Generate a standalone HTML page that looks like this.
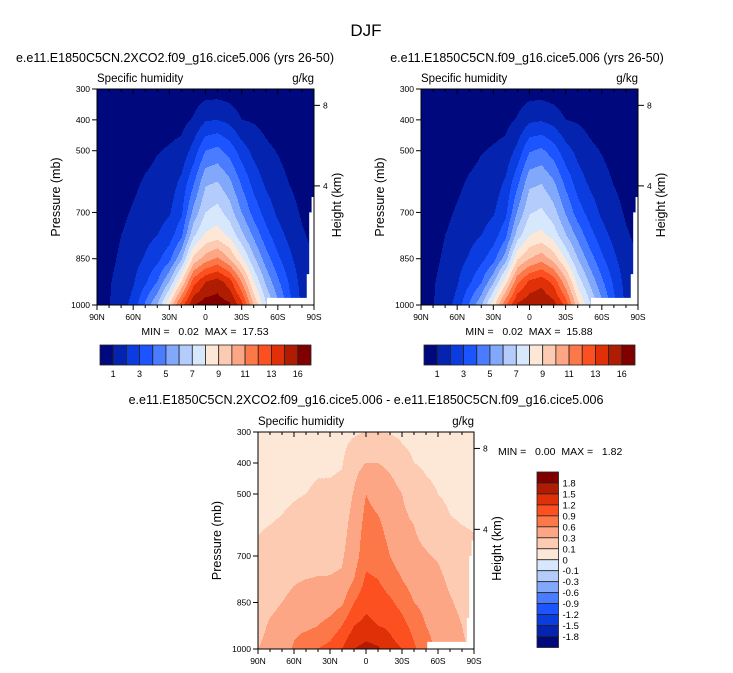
<!DOCTYPE html>
<html><head><meta charset="utf-8">
<style>
html,body{margin:0;padding:0;background:#fff;}
svg{display:block;font-family:"Liberation Sans",sans-serif;}
.pre{white-space:pre;}
</style></head>
<body>
<svg id="root" width="733" height="673" viewBox="0 0 733 673" xmlns="http://www.w3.org/2000/svg">
<text x="366" y="36" font-size="17" text-anchor="middle">DJF</text>
</svg>
<script>
// ---------- data ----------
const latLabels = ["90N","60N","30N","0","30S","60S","90S"];
const latTickDeg = [0,30,60,90,120,150,180];
const gridDeg = [0,10,20,30,40,50,60,70,80,90,100,110,120,130,140,150,160,170,180];
const gridP = [300,400,500,600,700,775,850,925,1000];
const pTicks = [300,400,500,700,850,1000];
const hTicks = [8,4];
const hTickP = [353,614];
// panel 1 field (level units), one column per latitude
const field1 = [
[0.2,0.2,0.2,0.2,0.2,0.2,0.2,0.3,0.5],
[0.2,0.2,0.2,0.3,0.4,0.5,0.7,0.9,0.95],
[0.2,0.2,0.3,0.5,0.8,1.0,1.2,1.4,1.6],
[0.2,0.3,0.5,0.8,1.1,1.3,1.6,1.9,2.3],
[0.2,0.4,0.7,1.1,1.4,1.7,2.1,2.8,4.2],
[0.3,0.5,0.95,1.3,1.6,2.0,2.7,4.0,6.0],
[0.3,0.6,1.1,1.5,1.9,2.5,3.7,6.0,9.0],
[0.3,0.7,1.3,2.2,2.8,3.8,5.8,9.0,12.5],
[0.4,1.1,2.4,3.8,5.3,6.8,9.3,12.5,15.0],
[0.5,1.9,4.0,5.8,7.0,8.2,10.5,14.0,15.5],
[0.5,2.0,4.3,6.0,7.4,8.5,11.2,14.5,15.5],
[0.4,1.7,3.6,5.2,6.5,7.8,10.0,13.5,15.2],
[0.3,1.0,2.5,3.8,5.0,6.3,8.2,11.0,13.5],
[0.3,0.9,1.7,2.6,3.6,4.8,6.2,8.0,10.0],
[0.3,0.7,1.2,1.8,2.6,3.4,4.5,5.8,7.2],
[0.2,0.5,0.95,1.3,1.8,2.4,3.2,4.2,5.3],
[0.2,0.4,0.7,0.95,1.3,1.7,2.2,2.8,3.3],
[0.2,0.3,0.5,0.7,0.9,1.1,1.4,1.6,1.8],
[0.2,0.2,0.3,0.4,0.6,0.8,1.0,1.1,1.2]];
const field2 = [
[0.2,0.2,0.2,0.2,0.2,0.2,0.2,0.3,0.5],
[0.2,0.2,0.2,0.3,0.4,0.5,0.7,0.9,0.95],
[0.2,0.2,0.3,0.5,0.8,1.0,1.2,1.4,1.6],
[0.2,0.3,0.5,0.8,1.1,1.3,1.6,1.9,2.3],
[0.2,0.4,0.7,1.1,1.4,1.7,2.1,2.8,4.1],
[0.3,0.5,0.95,1.3,1.6,2.0,2.7,3.9,5.8],
[0.3,0.6,1.1,1.5,1.9,2.5,3.6,5.8,8.6],
[0.3,0.7,1.3,2.1,2.7,3.7,5.5,8.6,11.8],
[0.4,1.1,2.3,3.7,5.1,6.5,8.9,11.8,14.2],
[0.5,1.8,3.9,5.7,6.9,8.0,10.0,13.2,14.8],
[0.5,1.9,4.2,5.9,7.2,8.3,10.6,13.7,14.9],
[0.4,1.6,3.5,5.1,6.4,7.6,9.6,12.7,14.4],
[0.3,1.0,2.4,3.7,4.9,6.1,7.9,10.4,12.7],
[0.3,0.9,1.7,2.5,3.5,4.7,6.0,7.6,9.4],
[0.3,0.7,1.2,1.8,2.6,3.4,4.5,5.8,7.2],
[0.2,0.5,0.95,1.3,1.8,2.4,3.2,4.2,5.3],
[0.2,0.4,0.7,0.95,1.3,1.7,2.2,2.8,3.3],
[0.2,0.3,0.5,0.7,0.9,1.1,1.4,1.6,1.8],
[0.2,0.2,0.3,0.4,0.6,0.8,1.0,1.1,1.2]];
const fieldDiff = [
[0.05,0.05,0.07,0.09,0.12,0.16,0.2,0.25,0.3],
[0.05,0.05,0.07,0.1,0.14,0.2,0.26,0.32,0.35],
[0.05,0.06,0.08,0.11,0.16,0.24,0.3,0.36,0.4],
[0.05,0.06,0.09,0.13,0.2,0.28,0.35,0.5,0.65],
[0.05,0.07,0.1,0.15,0.22,0.3,0.4,0.52,0.85],
[0.05,0.08,0.12,0.17,0.24,0.31,0.42,0.6,0.9],
[0.05,0.08,0.12,0.18,0.25,0.31,0.45,0.7,1.0],
[0.06,0.09,0.14,0.2,0.27,0.33,0.55,0.9,1.2],
[0.08,0.2,0.32,0.4,0.45,0.6,0.9,1.2,1.5],
[0.1,0.3,0.6,0.7,0.8,0.95,1.1,1.3,1.6],
[0.1,0.3,0.5,0.65,0.75,0.9,1.05,1.2,1.55],
[0.09,0.25,0.4,0.5,0.6,0.75,0.95,1.15,1.3],
[0.07,0.15,0.3,0.35,0.45,0.6,0.8,1.0,1.2],
[0.06,0.1,0.2,0.3,0.35,0.45,0.6,0.8,0.95],
[0.05,0.08,0.13,0.22,0.32,0.4,0.5,0.6,0.7],
[0.05,0.07,0.1,0.15,0.28,0.35,0.4,0.5,0.55],
[0.05,0.06,0.08,0.11,0.2,0.26,0.32,0.38,0.42],
[0.05,0.06,0.07,0.1,0.15,0.2,0.25,0.3,0.32],
[0.05,0.06,0.07,0.09,0.13,0.18,0.22,0.25,0.28]];
const levels1 = [1,2,3,4,5,6,7,8,9,10,11,12,13,14,15];
const levelsDiff = [-1.8,-1.5,-1.2,-0.9,-0.6,-0.3,-0.1,0,0.1,0.3,0.6,0.9,1.2,1.5,1.8];
const cbLabels1 = ["1","3","5","7","9","11","13","16"];
const cbLabelsDiff = ["1.8","1.5","1.2","0.9","0.6","0.3","0.1","0","-0.1","-0.3","-0.6","-0.9","-1.2","-1.5","-1.8"];
const palette = ["#00087e","#0424b0","#0a3ce0","#1c55ff","#4a7cff","#82a8fc","#b4ccfc","#d8e8fc","#fde8d8","#fccbb2","#fca686","#fc7848","#fc5020","#e03008","#b01c02","#800000"];
const maskDeg = [141,141,174,174,176,176,178,178,180,180];
const maskP = [1000,977,977,900,900,700,700,650,650,1000];

const NS="http://www.w3.org/2000/svg";
const root=document.getElementById('root');
function mk(tag,attrs,parent){const e=document.createElementNS(NS,tag);for(const k in attrs)e.setAttribute(k,attrs[k]);(parent||root).appendChild(e);return e;}

function sample(field,d,p){
  let i=Math.min(17,Math.floor(d/10));let fx=(d-gridDeg[i])/10;
  let j=0;while(j<gridP.length-2&&p>gridP[j+1])j++;
  let fy=(p-gridP[j])/(gridP[j+1]-gridP[j]);
  fx=Math.max(0,Math.min(1,fx));fy=Math.max(0,Math.min(1,fy));
  const a=field[i][j],b=field[i+1][j],c=field[i][j+1],e=field[i+1][j+1];
  return a*(1-fx)*(1-fy)+b*fx*(1-fy)+c*(1-fx)*fy+e*fx*fy;
}
function levelIndex(v,levels){let k=0;while(k<levels.length&&v>=levels[k])k++;return k;}

function panel(o){
  const x0=o.x0,y0=o.y0,w=o.w,h=o.h;
  const xs=d=>x0+d/180*w;
  const ys=p=>y0+(p-300)/700*h;
  const g=mk('g',{});
  
  
  for(let r=0;r<h;r++){
    const p=300+(r+0.5)/h*700;
    let start=0,cur=-1;
    for(let c=0;c<=w;c++){
      let k=-2;
      if(c<w){const d=(c+0.5)/w*180;k=levelIndex(sample(o.field,d,p),o.levels);}
      if(k!==cur){
        if(cur>=0){
          const rc=mk('rect',{x:x0+start,y:y0+r,width:c-start,height:1.05,fill:palette[cur]},g);
          
          
        }
        cur=k;start=c;
      }
    }
  }
  const mpts=maskDeg.map((d,i)=>xs(d)+','+ys(maskP[i])).join(' ');
  const m=mk('polygon',{points:mpts,fill:'#fff'});
  
  
  const fr=mk('rect',{x:x0,y:y0,width:w,height:h,fill:'none',stroke:'#000','stroke-width':1});
  
  
  for(let d=0;d<=180;d+=10){
    const major=d%30===0;
    mk('line',{x1:xs(d),x2:xs(d),y1:y0+h,y2:y0+h+(major?5:3),stroke:'#000','stroke-width':1});
    mk('line',{x1:xs(d),x2:xs(d),y1:y0,y2:y0+(major?5:3),stroke:'#000','stroke-width':1});
  }
  latTickDeg.forEach((d,i)=>{
    const t=mk('text',{x:xs(d),y:y0+h+15,'font-size':8.5,'text-anchor':'middle'});t.textContent=latLabels[i];
    
    
  });
  pTicks.forEach(p=>{
    mk('line',{x1:x0-5,x2:x0,y1:ys(p),y2:ys(p),stroke:'#000','stroke-width':1});
    const t=mk('text',{x:x0-7,y:ys(p)+3,'font-size':8.5,'text-anchor':'end'});t.textContent=p;
    
    
  });
  hTicks.forEach((hk,i)=>{
    const y=ys(hTickP[i]);
    mk('line',{x1:x0+w,x2:x0+w+6,y1:y,y2:y,stroke:'#000','stroke-width':1});
    const t=mk('text',{x:x0+w+9,y:y+3,'font-size':8.5});t.textContent=hk;
    
    
  });
  let t=mk('text',{x:x0,y:y0-7,'font-size':11.5});t.textContent='Specific humidity';
  
  
  t=mk('text',{x:x0+w,y:y0-7,'font-size':11.5,'text-anchor':'end'});t.textContent='g/kg';
  
  
  t=mk('text',{x:0,y:0,'font-size':12.5,'text-anchor':'middle',transform:`translate(${x0-37},${y0+h/2}) rotate(-90)`});t.textContent='Pressure (mb)';
  
  
  t=mk('text',{x:0,y:0,'font-size':12.5,'text-anchor':'middle',transform:`translate(${x0+w+27},${y0+h/2+8}) rotate(-90)`});t.textContent='Height (km)';
  
  
  t=mk('text',{x:o.tx,y:o.ty,'font-size':12.5,'text-anchor':'middle'});t.textContent=o.title;
  
  
  t=mk('text',{x:o.mx,y:o.my,'font-size':10.5,'text-anchor':o.manchor,'class':'pre'});t.textContent=o.minmax;
  
  
}
function hbar(x0,y0,w,h){
  const bw=w/16;
  palette.forEach((c,i)=>{
    const r=mk('rect',{x:x0+i*bw,y:y0,width:bw,height:h,fill:c,stroke:'#222','stroke-width':0.8});
    
    
  });
  cbLabels1.forEach((l,i)=>{
    const t=mk('text',{x:x0+(2*i+1)*bw,y:y0+h+12,'font-size':9,'text-anchor':'middle'});t.textContent=l;
    
    
  });
}
function vbar(x0,y0,w,h){
  const bh=h/16;
  palette.slice().reverse().forEach((c,i)=>{
    const r=mk('rect',{x:x0,y:y0+i*bh,width:w,height:bh,fill:c,stroke:'#222','stroke-width':0.8});
    
    
  });
  cbLabelsDiff.forEach((l,i)=>{
    const t=mk('text',{x:x0+w+4,y:y0+(i+1)*bh+3.5,'font-size':9.5});t.textContent=l;
    
    
  });
}
panel({name:'2xco2',x0:97,y0:89,w:217,h:216,field:field1,levels:levels1,
  title:'e.e11.E1850C5CN.2XCO2.f09_g16.cice5.006 (yrs 26-50)',tx:175,ty:62,
  minmax:'MIN =   0.02  MAX =  17.53',mx:205,my:335,manchor:'middle'});
panel({name:'control',x0:421,y0:89,w:217,h:216,field:field2,levels:levels1,
  title:'e.e11.E1850C5CN.f09_g16.cice5.006 (yrs 26-50)',tx:527,ty:62,
  minmax:'MIN =   0.02  MAX =  15.88',mx:529,my:335,manchor:'middle'});
panel({name:'difference',x0:258,y0:432,w:216,h:217,field:fieldDiff,levels:levelsDiff,
  title:'e.e11.E1850C5CN.2XCO2.f09_g16.cice5.006 - e.e11.E1850C5CN.f09_g16.cice5.006',tx:366,ty:404,
  minmax:'MIN =   0.00  MAX =   1.82',mx:498,my:455,manchor:'start'});
hbar(100,345,211,20);
hbar(424,345,211,20);
vbar(537,472,21.5,175.5);
</script>
</body></html>
